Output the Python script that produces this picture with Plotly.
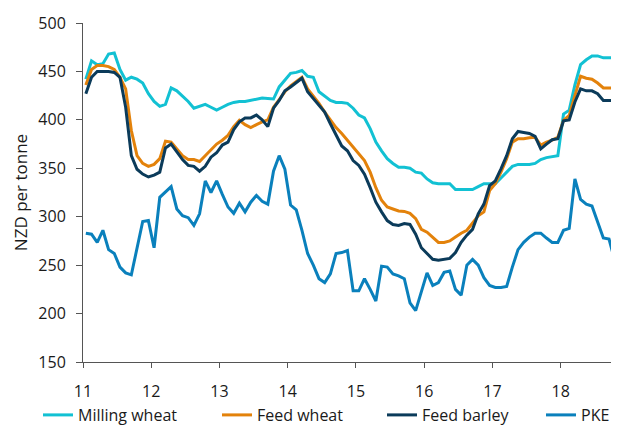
import plotly.graph_objects as go

start_year = 11
months = 94
x = [start_year + (i + 0.5) / 12 for i in range(months)]

milling_wheat = [442, 461, 457, 458, 468, 469, 452, 441, 444, 442, 438, 427, 419, 414, 416, 433, 430, 425, 419, 412, 414, 416, 413, 410,
                 413, 416, 418, 419, 419, 420, 421.5, 422.5, 422, 421.5, 434, 441, 448, 449, 451, 445, 444, 429, 424.6, 420, 418, 418, 417, 412,
                 405, 402, 391, 377, 368, 360, 355, 351, 351, 350, 346, 345, 339, 335, 334, 334, 334, 328, 328, 328, 328, 331, 334, 334,
                 334, 340, 346, 352, 354, 354, 354, 355, 359, 361, 362, 363, 406, 410, 436, 457, 462, 466, 466, 464, 464, 464]
feed_wheat = [436, 452, 456, 456, 455, 452, 444, 432, 389, 363, 355, 352, 354, 360, 378, 377, 370, 363, 359, 359, 357, 363, 370, 375,
              379, 384, 393, 399.5, 395, 392, 395, 398, 400, 413, 421, 429, 435, 440, 444, 432, 425, 417, 408, 400, 392, 386, 379, 373,
              365, 358, 346, 330, 317, 310, 308, 306, 305.5, 303.5, 298, 287, 284, 279, 273.5, 273.5, 275, 279, 283, 286, 293, 301, 305, 327,
              334, 346, 360, 377, 380.5, 380.5, 381.5, 382, 374, 377, 379, 382, 399.5, 404.5, 425, 445, 443, 442, 438, 433, 433, 433]
feed_barley = [427, 444, 450, 450, 450, 449, 444, 413, 363, 349, 344, 341, 343, 346, 371, 375, 367, 359, 353, 352, 347, 352, 361.5, 366,
               374, 377, 390, 398, 402, 402, 405, 400, 393, 412, 420, 430, 434, 439, 443, 429, 422, 415, 408, 396, 384, 373, 368, 358,
               353, 344, 330, 315, 305, 296, 292, 291, 293, 292, 282, 268, 262, 256, 255, 256, 257, 263, 273.5, 281, 287, 303, 313, 332,
               337, 349.5, 363, 380.5, 388, 387, 386, 383, 370, 375, 379.5, 380.5, 399, 400, 418.5, 432, 430, 430, 427, 420, 420, 420]
pke = [283, 282, 273.5, 286, 266, 262, 248, 242, 240, 268, 295, 296, 268, 320, 325, 331, 308, 301, 299, 291, 303, 337, 325, 337,
       323, 310, 303.5, 314, 305, 315, 322, 316, 313, 347, 363, 349, 312, 307, 286, 262, 250, 236, 232, 241, 262, 263, 265, 223.5,
       223.5, 236, 225, 213, 249, 248, 241, 239, 236, 211, 203, 222, 242, 229, 232, 242.5, 244, 225, 219, 250, 256, 250, 237, 229,
       227, 227, 228, 248, 266, 273.5, 279, 283, 283, 278, 273.5, 273.5, 286, 288, 339, 318, 313, 311, 294, 278, 277, 255]

tick_vals = [11, 12, 13, 14, 15, 16, 17, 18]
tick_text = ["11", "12", "13", "14", "15", "16", "17", "18"]
y_ticks = [150, 200, 250, 300, 350, 400, 450, 500]

series = [
    ("Milling wheat", milling_wheat, "#12C1D3", "legend", 30),
    ("Feed wheat", feed_wheat, "#E3820B", "legend2", 209),
    ("Feed barley", feed_barley, "#0B3B5A", "legend3", 374),
    ("PKE", pke, "#0A80BC", "legend4", 533),
]

W, H = 611, 418
font_family = "Open Sans, Noto Sans, sans-serif"

fig = go.Figure()
legends = {}
for name, vals, col, leg, lx in series:
    fig.add_trace(go.Scatter(x=x, y=vals, name=name, mode="lines",
                             line=dict(color=col, width=3), legend=leg))
    legends[leg] = dict(orientation="h", x=lx / W, xanchor="left", xref="container",
                        y=11 / H, yanchor="middle", yref="container",
                        font=dict(size=16), itemwidth=30,
                        bgcolor="rgba(0,0,0,0)")

fig.update_layout(
    width=W, height=H,
    margin=dict(l=75, r=1, t=14.5, b=64.3, autoexpand=False),
    paper_bgcolor="white", plot_bgcolor="white",
    font=dict(family=font_family, size=16, color="#1a1a1a"),
    showlegend=True,
    **legends,
    xaxis=dict(range=[11, 18.84], tickvals=tick_vals, ticktext=tick_text,
               showgrid=False, zeroline=False, showline=True, linecolor="#555555",
               linewidth=1, ticks="outside", ticklen=5, tickcolor="#555555",
               tickfont=dict(size=16), ticklabelstandoff=10),
    yaxis=dict(range=[150, 500], tickvals=y_ticks, showgrid=False, zeroline=False,
               showline=True, linecolor="#555555", linewidth=1, ticks="outside",
               ticklen=6, tickcolor="#555555", tickfont=dict(size=16),
               ticklabelstandoff=7,
               title=dict(text="NZD per tonne", font=dict(size=17), standoff=6)),
)

fig.write_html("out.html")
